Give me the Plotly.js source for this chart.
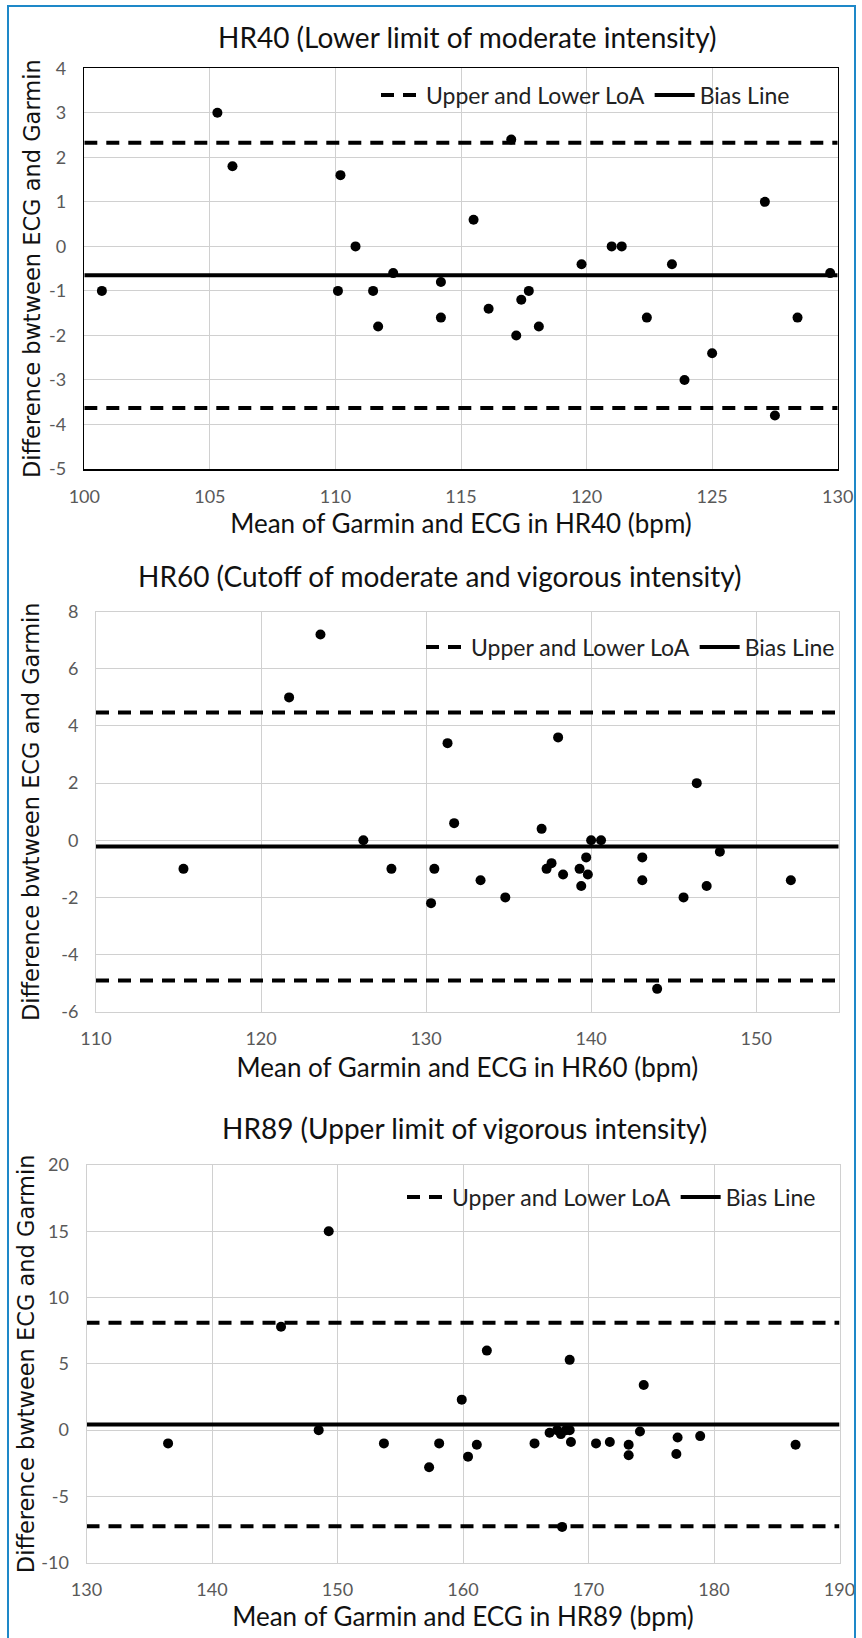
<!DOCTYPE html>
<html>
<head>
<meta charset="utf-8">
<script src="https://cdn.plot.ly/plotly-3.0.1.min.js"></script>
<style>
  html, body { margin: 0; padding: 0; background: #fff; overflow: hidden; }
  #wrap { position: relative; width: 862px; height: 1638px; }
  #chart { width: 862px; height: 1638px; }
  #frame { position: absolute; left: 7px; top: 5px; width: 849px; height: 1660px;
           border: 2.5px solid #1e88c8; box-sizing: border-box; pointer-events: none; }
</style>
</head>
<body>
<div id="wrap"><div id="chart"></div><div id="frame"></div></div>
<script>
// ---------- DATA ----------
const hr40Mean = [100.7,105.3,105.9,110.1,110.2,110.8,111.5,111.7,112.3,114.2,114.2,115.5,116.1,117.0,117.2,117.4,117.7,118.1,119.8,121.0,121.4,122.4,123.4,123.9,125.0,127.1,127.5,128.4,129.7];
const hr40Diff = [-1,3,1.8,-1,1.6,0,-1,-1.8,-0.6,-0.8,-1.6,0.6,-1.4,2.4,-2.0,-1.2,-1.0,-1.8,-0.4,0,0,-1.6,-0.4,-3.0,-2.4,1.0,-3.8,-1.6,-0.6];
const hr40Bias = -0.65, hr40Upper = 2.33, hr40Lower = -3.63;
const hr40Range = [100, 130];

const hr60Mean = [115.3,121.7,123.6,126.2,127.9,130.3,130.5,131.3,131.7,133.3,134.8,137.0,137.3,137.6,138.0,138.3,139.3,139.4,139.7,139.8,140.0,140.6,143.1,143.1,144.0,145.6,146.4,147.0,147.8,152.1];
const hr60Diff = [-1,5.0,7.2,0,-1,-2.2,-1,3.4,0.6,-1.4,-2.0,0.4,-1,-0.8,3.6,-1.2,-1.0,-1.6,-0.6,-1.2,0,0,-0.6,-1.4,-5.2,-2.0,2.0,-1.6,-0.4,-1.4];
const hr60Bias = -0.22, hr60Upper = 4.47, hr60Lower = -4.91;
const hr60Range = [110, 155];

const hr89Mean = [136.5,145.5,148.5,149.3,153.7,157.3,158.1,159.9,160.4,161.1,161.9,165.7,166.9,167.5,167.8,167.9,168.2,168.5,168.5,168.6,170.6,171.7,173.2,173.2,174.1,174.4,177.0,177.1,178.9,186.5];
const hr89Diff = [-1.0,7.8,0,15,-1.0,-2.8,-1.0,2.3,-2.0,-1.1,6.0,-1.0,-0.2,0,-0.3,-7.3,0,0,5.3,-0.9,-1.0,-0.9,-1.1,-1.9,-0.1,3.4,-1.8,-0.55,-0.45,-1.1];
const hr89Bias = 0.43, hr89Upper = 8.1, hr89Lower = -7.25;
const hr89Range = [130, 190];

const titles = ["HR40 (Lower limit of moderate intensity)",
                "HR60 (Cutoff of moderate and vigorous intensity)",
                "HR89 (Upper limit of vigorous intensity)"];
const xTitles = ["Mean of Garmin and ECG in HR40 (bpm)",
                 "Mean of Garmin and ECG in HR60 (bpm)",
                 "Mean of Garmin and ECG in HR89 (bpm)"];
const yTitle = "Difference bwtween ECG and Garmin";
const legendNames = ["Upper and Lower LoA", "Bias Line"];

const x1Ticks = [100,105,110,115,120,125,130];
const y1Ticks = [-5,-4,-3,-2,-1,0,1,2,3,4];
const x2Ticks = [110,120,130,140,150];
const y2Ticks = [-6,-4,-2,0,2,4,6,8];
const x3Ticks = [130,140,150,160,170,180,190];
const y3Ticks = [-10,-5,0,5,10,15,20];

// ---------- LAYOUT HELPERS ----------
const W = 862, H = 1638;
const px = v => v / W;
const py = v => 1 - v / H;
const TICKFONT = {family: "Lato, 'Open Sans', sans-serif", size: 18, color: "#595959"};
const TITLEFONT = {family: "Lato, 'Open Sans', sans-serif", size: 28, color: "#111"};
const XTFONT = {family: "Lato, 'Open Sans', sans-serif", size: 26, color: "#111"};
const YTFONT = {family: "'DejaVu Sans', Verdana, sans-serif", size: 22.5, color: "#111"};
const LEGFONT = {family: "Lato, 'Open Sans', sans-serif", size: 23, color: "#222"};

function tl(arr) { return arr.map(v => String(v)); }

function panel(idx, mean, diff, range, bias, upper, lower) {
  const s = idx === 1 ? "" : String(idx);
  const xa = "x" + s, ya = "y" + s, lg = "legend" + s;
  return [
    {x: mean, y: diff, xaxis: xa, yaxis: ya, type: "scatter", mode: "markers",
     marker: {color: "#000", size: 10}, showlegend: false, hoverinfo: "x+y"},
    {x: range, y: [upper, upper], xaxis: xa, yaxis: ya, type: "scatter", mode: "lines",
     line: {color: "#000", width: 4, dash: "13px,9px"}, name: legendNames[0], legend: lg, showlegend: true},
    {x: range, y: [bias, bias], xaxis: xa, yaxis: ya, type: "scatter", mode: "lines",
     line: {color: "#000", width: 4}, name: legendNames[1], legend: lg, showlegend: true},
    {x: range, y: [lower, lower], xaxis: xa, yaxis: ya, type: "scatter", mode: "lines",
     line: {color: "#000", width: 4, dash: "13px,9px"}, name: legendNames[0], legend: lg, showlegend: false}
  ];
}

const data = [].concat(
  panel(1, hr40Mean, hr40Diff, hr40Range, hr40Bias, hr40Upper, hr40Lower),
  panel(2, hr60Mean, hr60Diff, hr60Range, hr60Bias, hr60Upper, hr60Lower),
  panel(3, hr89Mean, hr89Diff, hr89Range, hr89Bias, hr89Upper, hr89Lower)
);

function xaxis(dom, yAnchor, range, ticks, title, standoff, framecolor, framewidth) {
  return {domain: dom, anchor: yAnchor, range: range, tickvals: ticks, ticktext: tl(ticks),
    showgrid: true, gridcolor: "#d0d0d0", gridwidth: 1, zeroline: false,
    showline: true, mirror: true, linecolor: framecolor, linewidth: framewidth,
    ticks: "", ticklabelstandoff: 11, tickfont: TICKFONT, automargin: false,
    title: {text: title, font: XTFONT, standoff: standoff}};
}
function yaxis(dom, xAnchor, range, ticks, standoff, framecolor, framewidth) {
  return {domain: dom, anchor: xAnchor, range: range, tickvals: ticks, ticktext: tl(ticks),
    showgrid: true, gridcolor: "#d0d0d0", gridwidth: 1, zeroline: false,
    showline: true, mirror: true, linecolor: framecolor, linewidth: framewidth,
    ticks: "", ticklabelstandoff: 13, tickfont: TICKFONT, automargin: false,
    title: {text: yTitle, font: YTFONT, standoff: standoff}};
}
function legend(xpx, ypx) {
  return {orientation: "h", x: px(xpx), y: py(ypx), xanchor: "left", yanchor: "middle",
    xref: "paper", yref: "paper", bgcolor: "rgba(0,0,0,0)", borderwidth: 0, font: LEGFONT,
    itemwidth: 40, tracegroupgap: 0};
}

const layout = {
  width: W, height: H, margin: {l: 0, r: 0, t: 0, b: 0},
  paper_bgcolor: "#fff", plot_bgcolor: "#fff", hovermode: "closest",
  xaxis:  xaxis([px(84.3), px(837.7)], "y",  hr40Range, x1Ticks, xTitles[0], 0, "#000", 1.5),
  yaxis:  yaxis([py(469), py(68.3)],   "x",  [-5, 4], y1Ticks, 2, "#000", 1.5),
  xaxis2: xaxis([px(96), px(838.7)],   "y2", hr60Range, x2Ticks, xTitles[1], 10, "#d0d0d0", 1),
  yaxis2: yaxis([py(1011.7), py(611.7)], "x2", [-6, 8], y2Ticks, 15, "#d0d0d0", 1),
  xaxis3: xaxis([px(86.5), px(839.5)], "y3", hr89Range, x3Ticks, xTitles[2], 0, "#d0d0d0", 1),
  yaxis3: yaxis([py(1562.7), py(1165)], "x3", [-10, 20], y3Ticks, 0, "#d0d0d0", 1),
  legend:  legend(376, 95),
  legend2: legend(421, 647),
  legend3: legend(402, 1197),
  annotations: [
    {text: titles[0], xref: "paper", yref: "paper", x: px(467), y: py(37), xanchor: "center", yanchor: "middle", showarrow: false, font: TITLEFONT},
    {text: titles[1], xref: "paper", yref: "paper", x: px(440), y: py(576), xanchor: "center", yanchor: "middle", showarrow: false, font: TITLEFONT},
    {text: titles[2], xref: "paper", yref: "paper", x: px(465), y: py(1128), xanchor: "center", yanchor: "middle", showarrow: false, font: TITLEFONT}
  ]
};

Plotly.newPlot("chart", data, layout, {displayModeBar: false, staticPlot: true});
</script>
</body>
</html>
